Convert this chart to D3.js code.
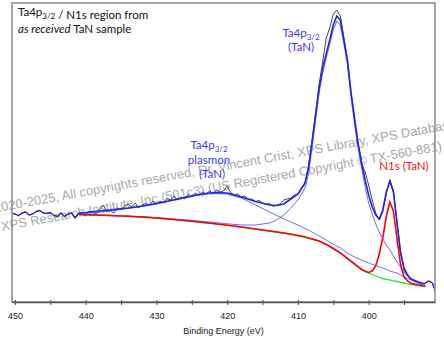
<!DOCTYPE html>
<html>
<head>
<meta charset="utf-8">
<script src="https://cdn.jsdelivr.net/npm/d3@7"></script>
<style>
  body { margin: 0; background: #fff; }
  svg { display: block; }
</style>
</head>
<body>
<script>
var width = 444,
    height = 341;
var plot = { left: 12, right: 435, top: 3, bottom: 302 };

// binding energy grid of the fitted curves (eV)
var fitBE = [441, 440, 438, 436, 434, 432, 430, 428, 426, 424, 422, 420, 418, 416, 414, 413, 412, 411, 410, 409,
  408.5, 408, 407.5, 407, 406.5, 406, 405.5, 405, 404.5, 404, 403.5, 403, 402.5, 402, 401.5, 401, 400.5, 400,
  399.5, 399, 398.5, 398, 397.5, 397, 396.5, 396, 395.5, 395, 394.5, 394, 393, 392];

// Shirley background (green)
var background = [875, 872, 868, 863, 857, 850, 840, 828, 815, 800, 785, 768, 750, 730, 710, 700, 690, 678, 665, 650,
  640, 630, 620, 610, 593, 575, 555, 535, 513, 490, 463, 435, 408, 380, 353, 325, 307, 290,
  275, 260, 247, 235, 227, 220, 212, 205, 197, 190, 182, 175, 165, 155];

// N1s (TaN) component on background (red)
var n1sPeak = [875, 872, 868, 863, 857, 850, 840, 828, 815, 800, 785, 768, 750, 730, 710, 700, 690, 678, 665, 650,
  640, 630, 620, 610, 593, 575, 555, 535, 513, 490, 463, 435, 408, 380, 353, 325, 307, 295,
  310, 360, 480, 640, 860, 1000, 910, 640, 380, 250, 210, 187, 170, 157];

// Ta4p3/2 (TaN) component on background (thin blue)
var ta4pPeak = [877, 874, 870, 867, 860, 852, 845, 833, 822, 810, 797, 782, 770, 770, 790, 820, 870, 940, 1020, 1140,
  1280, 1540, 1820, 2090, 2290, 2440, 2580, 2720, 2810, 2770, 2580, 2370, 2050, 1780, 1540, 1340, 1150, 990,
  880, 780, 700, 630, 570, 520, 460, 400, 350, 300, 260, 225, 185, 160];

// Ta4p3/2 plasmon (TaN) component on background (thin blue)
var plasmonPeak = [880, 885, 900, 915, 935, 955, 980, 1010, 1040, 1070, 1085, 1080, 1040, 970, 900, 865, 830, 800, 770, 735,
  720, 700, 680, 660, 640, 620, 600, 580, 560, 540, 515, 490, 470, 450, 435, 420, 405, 390,
  375, 365, 350, 340, 325, 310, 300, 290, 270, 250, 235, 220, 190, 160];

// fit envelope (blue)
var envelope = [890, 895, 910, 925, 940, 960, 985, 1015, 1045, 1075, 1095, 1090, 1050, 1005, 970, 965, 980, 1030, 1080, 1190,
  1340, 1600, 1870, 2140, 2340, 2480, 2620, 2770, 2860, 2820, 2620, 2420, 2100, 1840, 1590, 1390, 1220, 1070,
  950, 870, 830, 920, 1100, 1210, 1100, 800, 500, 340, 270, 230, 200, 180];

// measured spectrum, 0.5 eV steps from 450.5 to 390.5 eV
var rawBE = [450.5, 450, 449.5, 449, 448.5, 448, 447.5, 447, 446.5, 446, 445.5, 445, 444.5, 444, 443.5, 443,
  442.5, 442, 441.5, 441, 440.5, 440, 439.5, 439, 438.5, 438, 437.5, 437, 436.5, 436, 435.5, 435, 434.5, 434,
  433.5, 433, 432.5, 432, 431.5, 431, 430.5, 430, 429.5, 429, 428.5, 428, 427.5, 427, 426.5, 426, 425.5, 425,
  424.5, 424, 423.5, 423, 422.5, 422, 421.5, 421, 420.5, 420, 419.5, 419, 418.5, 418, 417.5, 417, 416.5, 416,
  415.5, 415, 414.5, 414, 413.5, 413, 412.5, 412, 411.5, 411, 410.5, 410, 409.5, 409, 408.5, 408, 407.5, 407,
  406.5, 406, 405.5, 405, 404.5, 404, 403.5, 403, 402.5, 402, 401.5, 401, 400.5, 400, 399.5, 399, 398.5, 398,
  397.5, 397, 396.5, 396, 395.5, 395, 394.5, 394, 393.5, 393, 392.5, 392, 391.5, 391, 390.5];
var rawCounts = [890, 880, 865, 890, 900, 870, 880, 905, 915, 890, 885, 895, 865, 855, 890, 855,
  880, 890, 840, 890, 880, 860, 910, 895, 880, 930, 970, 900, 910, 890, 940, 925, 960, 980,
  950, 990, 940, 970, 985, 970, 1010, 980, 1010, 990, 1040, 1020, 1060, 1020, 1050, 1030, 1080, 1050,
  1090, 1065, 1100, 1080, 1110, 1085, 1120, 1100, 1110, 1160, 1090, 1075, 1080, 1050, 1060, 1030, 1030, 1005,
  1015, 990, 975, 985, 955, 970, 980, 1020, 1030, 1040, 1070, 1075, 1130, 1180, 1360, 1620, 1890, 2180,
  2400, 2640, 2740, 2880, 2920, 2860, 2640, 2420, 2100, 1840, 1590, 1390, 1300, 1170, 1020, 890, 820, 900,
  1090, 1220, 1120, 800, 500, 320, 260, 230, 210, 200, 180, 190, 210, 190, 100];

var tickValues = [450, 445, 440, 435, 430, 425, 420, 415, 410, 405, 400, 395];
var labelTicks = [450, 440, 430, 420, 410, 400];

var svg = d3.select('body').append('svg')
  .attr('width', width)
  .attr('height', height);

var x = d3.scaleLinear().domain([450.42, 390.62]).range([plot.left, plot.right]);
var y = d3.scaleLinear().domain([0, 2990]).range([plot.bottom, plot.top]);

svg.append('clipPath').attr('id', 'clip')
  .append('rect')
  .attr('x', plot.left).attr('y', plot.top)
  .attr('width', plot.right - plot.left).attr('height', plot.bottom - plot.top);

// watermark
var mark = svg.append('g')
  .attr('font-family', 'Liberation Sans, Arial, sans-serif')
  .attr('font-size', '13px')
  .attr('fill', '#a9a9a9')
  .style('white-space', 'pre');
mark.append('text')
  .attr('transform', 'translate(-18,215) rotate(-10.4)')
  .text('\u00a9 2020-2025,  All copyrights reserved,  Dr. Vincent Crist,  XPS Library,  XPS Database');
mark.append('text')
  .attr('transform', 'translate(2,231) rotate(-10.4)')
  .text('XPS Research Institute, Inc (501c3)  (US Registered Copyright \u00a9 TX-560-881)');

var line = d3.line()
  .x(function(d) { return x(d[0]); })
  .y(function(d) { return y(d[1]); });

var curves = svg.append('g').attr('clip-path', 'url(#clip)').attr('fill', 'none');

curves.append('path')
  .attr('d', line(d3.zip(rawBE, rawCounts)))
  .attr('stroke', '#4a4a4a')
  .attr('stroke-width', 1);

// raw data outside the fit region
var outside = d3.zip(rawBE, rawCounts);
curves.append('path')
  .attr('d', line(outside.filter(function(d) { return d[0] >= 441; })))
  .attr('stroke', '#2626c4')
  .attr('stroke-width', 1.3);
curves.append('path')
  .attr('d', line(outside.filter(function(d) { return d[0] <= 392; })))
  .attr('stroke', '#2626c4')
  .attr('stroke-width', 1.3);

curves.append('path')
  .attr('d', line(d3.zip(fitBE, background)))
  .attr('stroke', '#33dd33')
  .attr('stroke-width', 1.3);

curves.append('path')
  .attr('d', line(d3.zip(fitBE, plasmonPeak)))
  .attr('stroke', '#6b6bff')
  .attr('stroke-width', 1);

curves.append('path')
  .attr('d', line(d3.zip(fitBE, ta4pPeak)))
  .attr('stroke', '#6b6bff')
  .attr('stroke-width', 1);

curves.append('path')
  .attr('d', line(d3.zip(fitBE, n1sPeak)))
  .attr('stroke', '#ff0000')
  .attr('stroke-width', 1.6);

curves.append('path')
  .attr('d', line(d3.zip(fitBE, envelope)))
  .attr('stroke', '#2424dc')
  .attr('stroke-width', 1.6);

// frame
svg.append('rect')
  .attr('x', plot.left).attr('y', plot.top)
  .attr('width', plot.right - plot.left).attr('height', plot.bottom - plot.top)
  .attr('fill', 'none')
  .attr('stroke', '#8a8a8a')
  .attr('stroke-width', 1.5);

var xAxis = d3.axisBottom(x)
  .tickValues(tickValues)
  .tickFormat(function(d) { return labelTicks.indexOf(d) >= 0 ? d : ''; })
  .tickSizeInner(3)
  .tickSizeOuter(0)
  .tickPadding(8);

var gx = svg.append('g')
  .attr('transform', 'translate(0,' + plot.bottom + ')')
  .call(xAxis);
gx.select('.domain').attr('stroke', '#555').attr('stroke-width', 1.3);
gx.selectAll('.tick line').attr('stroke', '#555').attr('y1', -2);
gx.selectAll('.tick text')
  .attr('font-family', 'Liberation Sans, Arial, sans-serif')
  .attr('font-size', '9px')
  .attr('fill', '#222');

svg.append('text')
  .attr('x', (plot.left + plot.right) / 2)
  .attr('y', 334)
  .attr('text-anchor', 'middle')
  .attr('font-family', 'Liberation Sans, Arial, sans-serif')
  .attr('font-size', '9px')
  .attr('fill', '#222')
  .text('Binding Energy (eV)');

// annotations
var note = svg.append('g')
  .attr('font-family', 'Lato, sans-serif')
  .attr('font-size', '11.5px');

function ta4p(sel) {
  sel.append('tspan').text('Ta4p');
  sel.append('tspan').attr('font-size', '8px').attr('dy', 3).text('3/2');
  sel.append('tspan').attr('dy', -3).text('');
}

var t1 = note.append('text').attr('x', 18).attr('y', 16).attr('fill', '#111');
ta4p(t1);
t1.append('tspan').text(' / N1s region from');
var t2 = note.append('text').attr('x', 18).attr('y', 33).attr('fill', '#111');
t2.append('tspan').attr('font-style', 'italic').text('as received');
t2.append('tspan').text(' TaN sample');

var blue = '#3a3af5';
var p1 = note.append('text').attr('x', 301).attr('y', 37).attr('text-anchor', 'middle').attr('fill', blue);
ta4p(p1);
note.append('text').attr('x', 301).attr('y', 51).attr('text-anchor', 'middle').attr('fill', blue).text('(TaN)');

var p2 = note.append('text').attr('x', 209).attr('y', 149).attr('text-anchor', 'middle').attr('fill', blue);
ta4p(p2);
note.append('text').attr('x', 209).attr('y', 164).attr('text-anchor', 'middle').attr('fill', blue).text('plasmon');
note.append('text').attr('x', 212).attr('y', 178).attr('text-anchor', 'middle').attr('fill', blue).text('(TaN)');

note.append('text').attr('x', 404).attr('y', 170).attr('text-anchor', 'middle').attr('fill', '#f01414').text('N1s (TaN)');
</script>
</body>
</html>
